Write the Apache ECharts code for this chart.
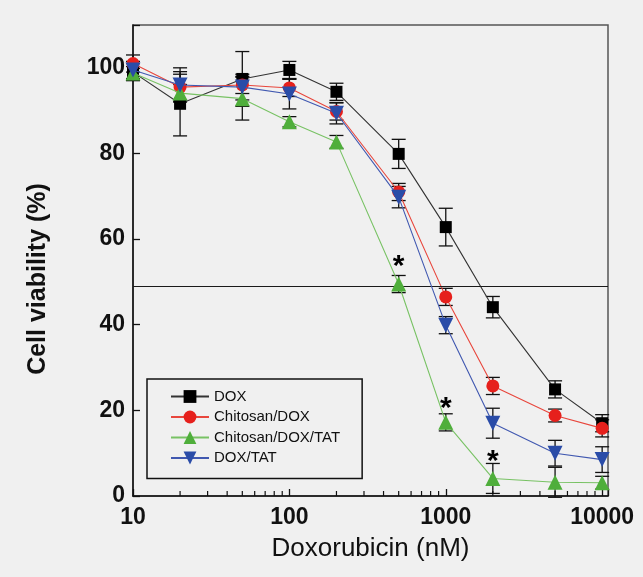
<!DOCTYPE html>
<html>
<head>
<meta charset="utf-8">
<script src="https://cdn.jsdelivr.net/npm/echarts@6/dist/echarts.min.js"></script>
<style>
html, body { margin: 0; padding: 0; background: #f0f0f0; }
#main { width: 643px; height: 577px; }
</style>
</head>
<body>
<div id="main"></div>
<script>
// concentrations (nM)
var doses = [10, 20, 50, 100, 200, 500, 1000, 2000, 5000, 10000];

// viability (%) and error bars
var dox      = [99.0, 91.6, 97.4, 99.5, 94.4, 79.9, 62.8, 44.1, 24.9, 17.0];
var doxErr   = [2.0, 7.5, 6.4, 2.0, 2.0, 3.4, 4.4, 2.5, 2.0, 2.0];
var chiDox   = [101.0, 95.5, 96.0, 95.3, 89.8, 71.0, 46.5, 25.7, 18.8, 15.8];
var chiErr   = [2.0, 3.0, 2.0, 2.0, 2.0, 2.0, 2.0, 2.0, 1.5, 2.0];
var chiTat   = [98.8, 94.1, 92.8, 87.4, 82.7, 49.5, 17.2, 4.1, 3.2, 3.1];
var chiTatErr= [1.5, 2.0, 5.0, 1.2, 1.5, 2.0, 2.0, 3.5, 3.5, 1.5];
var doxTat   = [99.5, 96.0, 95.5, 93.9, 89.4, 69.8, 39.9, 17.0, 10.0, 8.5];
var doxTatErr= [2.0, 4.0, 3.0, 3.5, 2.5, 2.5, 2.0, 3.5, 3.0, 3.0];

// significance marks (*) placed above the Chitosan/DOX/TAT points
var starX = [500, 1000, 2000];
var starY = [53.5, 20.4, 7.9];

var refLine = 49;
var xTicks = [10, 100, 1000, 10000];
var xMinor = [20, 30, 40, 50, 60, 70, 80, 90, 200, 300, 400, 500, 600, 700, 800, 900,
              2000, 3000, 4000, 5000, 6000, 7000, 8000, 9000];

var names = ['DOX', 'Chitosan/DOX', 'Chitosan/DOX/TAT', 'DOX/TAT'];
var lineColors = ['#333333', '#e8463c', '#78c264', '#4058b0'];
var markColors = ['#000000', '#e6201c', '#4fae3b', '#2a4ca8'];
var symbols = ['rect', 'circle', 'triangle', 'triangle'];
var symbolSizes = [12, 13, 15, 15];
var rotates = [0, 0, 0, 180];
var values = [dox, chiDox, chiTat, doxTat];
var errors = [doxErr, chiErr, chiTatErr, doxTatErr];

var chart = echarts.init(document.getElementById('main'));

function pairs(ys) {
    return doses.map(function (d, i) { return [d, ys[i]]; });
}

function errData(ys, es) {
    return doses.map(function (d, i) { return [d, ys[i] - es[i], ys[i] + es[i]]; });
}

function renderErr(params, api) {
    var lo = api.coord([api.value(0), api.value(1)]);
    var hi = api.coord([api.value(0), api.value(2)]);
    var w = 7;
    var st = { stroke: '#111', lineWidth: 1.3 };
    return {
        type: 'group',
        children: [
            { type: 'line', shape: { x1: lo[0], y1: lo[1], x2: hi[0], y2: hi[1] }, style: st },
            { type: 'line', shape: { x1: lo[0] - w, y1: lo[1], x2: lo[0] + w, y2: lo[1] }, style: st },
            { type: 'line', shape: { x1: hi[0] - w, y1: hi[1], x2: hi[0] + w, y2: hi[1] }, style: st }
        ]
    };
}

var series = [];
for (var k = 0; k < 4; k++) {
    series.push({
        name: names[k] + ' err',
        type: 'custom',
        renderItem: renderErr,
        data: errData(values[k], errors[k]),
        encode: { x: 0, y: [1, 2] },
        z: 1,
        silent: true
    });
}
for (var k = 0; k < 4; k++) {
    var s = {
        name: names[k],
        type: 'line',
        data: pairs(values[k]),
        symbol: symbols[k],
        symbolSize: symbolSizes[k],
        symbolRotate: rotates[k],
        showAllSymbol: true,
        lineStyle: { color: lineColors[k], width: 1.1 },
        itemStyle: { color: markColors[k], borderWidth: 0 },
        z: 3 + k
    };
    if (k === 0) {
        s.markLine = {
            silent: true,
            symbol: 'none',
            label: { show: false },
            lineStyle: { color: '#1a1a1a', width: 1.2, type: 'solid' },
            data: [{ yAxis: refLine }]
        };
    }
    series.push(s);
}

// minor ticks on log axis
series.push({
    type: 'custom',
    silent: true,
    z: 10,
    data: xMinor.map(function (v) { return [v, 0]; }),
    encode: { x: 0, y: 1 },
    renderItem: function (params, api) {
        var p = api.coord([api.value(0), 0]);
        return { type: 'line', shape: { x1: p[0], y1: p[1], x2: p[0], y2: p[1] - 5 },
                 style: { stroke: '#111', lineWidth: 1.2 } };
    }
});

// asterisks
series.push({
    type: 'custom',
    silent: true,
    z: 10,
    data: starX.map(function (v, i) { return [v, starY[i]]; }),
    encode: { x: 0, y: 1 },
    renderItem: function (params, api) {
        var p = api.coord([api.value(0), api.value(1)]);
        return { type: 'text', x: p[0], y: p[1],
                 style: { text: '*', fill: '#000', font: 'bold 30px "Liberation Sans", Arial',
                          align: 'center', verticalAlign: 'middle' } };
    }
});

var option = {
    backgroundColor: '#f0f0f0',
    animation: false,
    grid: {
        left: 133, right: 35, top: 25, bottom: 81,
        show: true, borderColor: '#555', borderWidth: 1.5, backgroundColor: 'transparent'
    },
    legend: {
        data: names,
        orient: 'vertical',
        left: 147,
        top: 379,
        itemWidth: 38,
        itemHeight: 16,
        itemGap: 5.5,
        padding: [10, 22, 13, 23],
        borderColor: '#111',
        borderWidth: 1.5,
        textStyle: { fontFamily: '"Liberation Sans", Arial', fontSize: 15, color: '#111' }
    },
    xAxis: {
        type: 'log',
        logBase: 10,
        min: 10,
        max: 10900,
        name: 'Doxorubicin (nM)',
        nameLocation: 'middle',
        nameGap: 40,
        nameTextStyle: { fontFamily: '"Liberation Sans", Arial', fontSize: 26, color: '#111' },
        axisLine: { lineStyle: { color: '#111', width: 1.5 } },
        axisTick: { inside: true, length: 7, lineStyle: { color: '#111', width: 1.3 } },
        splitLine: { show: false },
        minorTick: { show: false },
        axisLabel: {
            margin: 10,
            fontFamily: '"Liberation Sans", Arial', fontSize: 23, fontWeight: 'bold', color: '#111',
            formatter: function (v) {
                var r = Math.round(v);
                return xTicks.indexOf(r) >= 0 ? String(r) : '';
            }
        }
    },
    yAxis: {
        type: 'value',
        min: 0,
        max: 110,
        interval: 20,
        axisLine: { show: true, lineStyle: { color: '#111', width: 1.5 } },
        axisTick: { show: true, inside: true, length: 7, lineStyle: { color: '#111', width: 1.3 } },
        splitLine: { show: false },
        axisLabel: {
            margin: 8,
            fontFamily: '"Liberation Sans", Arial', fontSize: 23, fontWeight: 'bold', color: '#111',
            formatter: function (v) { return v > 100 ? '' : String(v); }
        }
    },
    graphic: [{
        type: 'text',
        x: 38, y: 279,
        rotation: Math.PI / 2,
        style: { text: 'Cell viability (%)', fill: '#111', font: 'bold 25px "Liberation Sans", Arial',
                 align: 'center', verticalAlign: 'middle' }
    }],
    series: series
};
chart.setOption(option);
</script>
</body>
</html>
